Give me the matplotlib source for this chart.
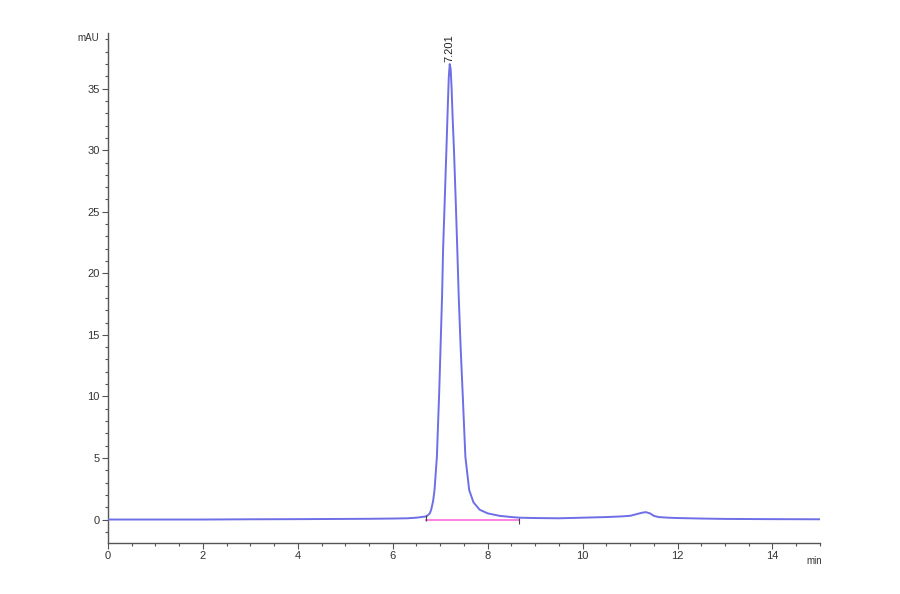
import matplotlib.pyplot as plt
from matplotlib.ticker import MultipleLocator

# retention time (min) and absorbance (mAU)
time_min = [0.0, 1.0, 2.0, 3.0, 4.0, 5.0, 5.5, 6.0, 6.3, 6.5, 6.6, 6.7, 6.74, 6.78,
            6.81, 6.85, 6.88, 6.93, 6.98, 7.04, 7.06, 7.1, 7.13, 7.16, 7.18, 7.2, 7.22,
            7.24, 7.26, 7.29, 7.33, 7.36, 7.39, 7.43, 7.47, 7.53, 7.61, 7.7, 7.83, 8.0,
            8.25, 8.5, 8.67, 9.0, 9.5, 10.0, 10.5, 10.8, 11.0, 11.15, 11.25, 11.33,
            11.42, 11.5, 11.6, 11.8, 12.0, 12.5, 13.0, 14.0, 15.0]
signal_mau = [0.0, 0.0, 0.0, 0.02, 0.03, 0.05, 0.06, 0.08, 0.1, 0.15, 0.2, 0.25, 0.35, 0.5,
              0.8, 1.5, 2.4, 5.1, 10.5, 18.3, 21.9, 26.5, 30.0, 33.6, 35.9, 37.0, 36.6,
              35.0, 32.8, 30.0, 25.5, 21.9, 18.1, 14.0, 10.5, 5.1, 2.4, 1.4, 0.8, 0.5,
              0.3, 0.2, 0.15, 0.12, 0.1, 0.15, 0.2, 0.25, 0.3, 0.45, 0.55, 0.6,
              0.5, 0.3, 0.2, 0.15, 0.12, 0.08, 0.05, 0.03, 0.02]

# integration baseline of the main peak
baseline_t = [6.7, 8.67]
baseline_y = [0.0, 0.0]

peak_rt = 7.201
peak_height = 37.0

fig = plt.figure(figsize=(9, 5.94), dpi=100)
ax = fig.add_axes([0.12, 0.086, 0.791, 0.858])

ax.plot(baseline_t, baseline_y, color='#ff80e0', linewidth=1.4, zorder=2)
ax.plot(time_min, signal_mau, color='#6e6ee6', linewidth=1.4, zorder=3)
# little marks at baseline start/end
ax.plot(baseline_t, [0.15, -0.1], linestyle='none', marker='|', markersize=5,
        color='#444444', markeredgewidth=0.8, zorder=4)

ax.text(peak_rt, peak_height + 0.2, '7.201', rotation=90, ha='center', va='bottom',
        fontsize=8, color='#222222', family='Liberation Sans')

ax.set_xlim(0, 15)
ax.set_ylim(-1.9, 39.5)
ax.xaxis.set_major_locator(MultipleLocator(2))
ax.xaxis.set_minor_locator(MultipleLocator(0.5))
ax.yaxis.set_major_locator(MultipleLocator(5))
ax.yaxis.set_minor_locator(MultipleLocator(1))

for s in ['top', 'right']:
    ax.spines[s].set_visible(False)
for s in ['left', 'bottom']:
    ax.spines[s].set_color('#555555')
    ax.spines[s].set_linewidth(1.0)

ax.tick_params(which='major', direction='out', length=4, width=0.8, color='#555555',
               labelsize=8, labelcolor='#333333', pad=2)
ax.tick_params(which='minor', direction='out', length=2, width=0.8, color='#555555')
for lab in ax.get_xticklabels() + ax.get_yticklabels():
    lab.set_family('Liberation Sans')

fig.text(88 / 900, 1 - 38 / 594, 'mAU', fontsize=7, color='#333333', ha='center',
         va='center', family='Liberation Sans')
fig.text(814 / 900, 1 - 561 / 594, 'min', fontsize=7, color='#333333', ha='center',
         va='center', family='Liberation Sans')

fig.savefig('out.png', dpi=100, facecolor='white')
